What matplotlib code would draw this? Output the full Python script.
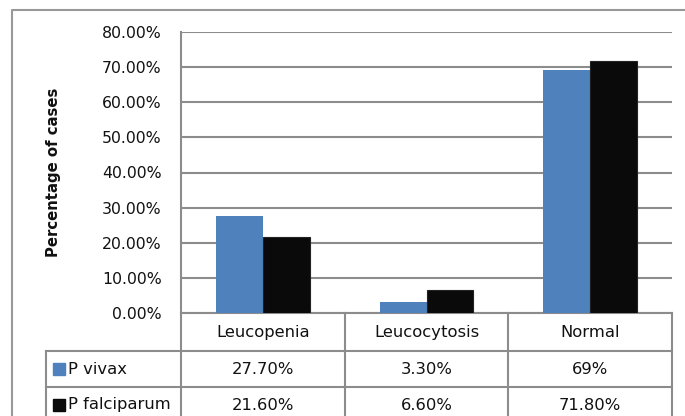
import numpy as np
import matplotlib
matplotlib.use('Agg')
import matplotlib.pyplot as plt
import matplotlib.transforms as mtransforms
from matplotlib.patches import Rectangle

categories = ['Leucopenia', 'Leucocytosis', 'Normal']
series_names = ['P vivax', 'P falciparum']
vivax = [0.277, 0.033, 0.69]
falciparum = [0.216, 0.066, 0.718]
vivax_labels = ['27.70%', '3.30%', '69%']
falciparum_labels = ['21.60%', '6.60%', '71.80%']
colors = ['#4F81BD', '#0a0a0a']
yticks = [0, 0.1, 0.2, 0.3, 0.4, 0.5, 0.6, 0.7, 0.8]

W, H = 685, 416
grid_col = '#8c8c8c'
txt_col = '#111111'

fig = plt.figure(figsize=(W / 100, H / 100), dpi=100)
fig.patch.set_facecolor('white')

# pixel overlay for frame / table
ov = fig.add_axes([0, 0, 1, 1], zorder=0)
ov.set_xlim(0, W)
ov.set_ylim(H, 0)
ov.axis('off')

ax = fig.add_axes([181 / W, (H - 313.3) / H, 491 / W, 281.6 / H], zorder=1)
ax.set_facecolor('none')

x = np.arange(len(categories))
bw = 1 / 3.5
ax.bar(x - bw / 2, vivax, bw, color=colors[0], zorder=3)
ax.bar(x + bw / 2, falciparum, bw, color=colors[1], edgecolor='#222222',
       linewidth=0.8, zorder=3)

ax.set_xlim(-0.5, 2.5)
ax.set_ylim(0, 0.8)
ax.set_yticks(yticks)
ax.set_yticklabels(['%.2f%%' % (t * 100) for t in yticks], fontsize=11.3, color=txt_col)
ax.tick_params(axis='y', length=0, pad=14)
ax.set_xticks([])
ax.yaxis.grid(True, color=grid_col, linewidth=1.5)
ax.set_axisbelow(True)
for s in ['top', 'right', 'bottom']:
    ax.spines[s].set_visible(False)
ax.spines['left'].set_color(grid_col)
ax.spines['left'].set_linewidth(1.5)
ax.set_ylabel('Percentage of cases', fontsize=10.7, fontweight='bold',
              color=txt_col)
ax.yaxis.set_label_coords(-120 / 491, 0.5)

# outer frame
ov.plot([12, 12, W + 5], [H + 5, 10, 10], color='#999999', lw=1.5)

# data table below the axis, columns follow category scale
tr = mtransforms.blended_transform_factory(ax.transData, ov.transData)
edges = np.arange(len(categories) + 1) - 0.5
left_px = 46
row_y = [313.3, 351, 387, 423]
lkw = dict(color=grid_col, lw=1.5, clip_on=False)
ov.plot([left_px, left_px], [row_y[1], H + 5], **lkw)
for e in edges:
    ax.plot([e, e], [row_y[0], H + 5], transform=tr, **lkw)
ax.plot([edges[0], edges[-1]], [row_y[0], row_y[0]], transform=tr, **lkw)
for yy in row_y[1:3]:
    ov.plot([left_px, 672], [yy, yy], **lkw)

fs_tab = 11.8
hy = (row_y[0] + row_y[1]) / 2
for i, c in enumerate(categories):
    ax.text(x[i], hy, c, transform=tr, ha='center', va='center',
            fontsize=fs_tab, color=txt_col)

rows = [vivax_labels, falciparum_labels]
for r, (name, labels) in enumerate(zip(series_names, rows)):
    cy = (row_y[r + 1] + row_y[r + 2]) / 2
    ov.add_patch(Rectangle((53, cy - 6), 12, 12, color=colors[r]))
    ov.text(68, cy, name, ha='left', va='center', fontsize=fs_tab, color=txt_col)
    for i, lab in enumerate(labels):
        ax.text(x[i], cy, lab, transform=tr, ha='center', va='center',
                fontsize=fs_tab, color=txt_col)

fig.savefig('out.png', dpi=100)
